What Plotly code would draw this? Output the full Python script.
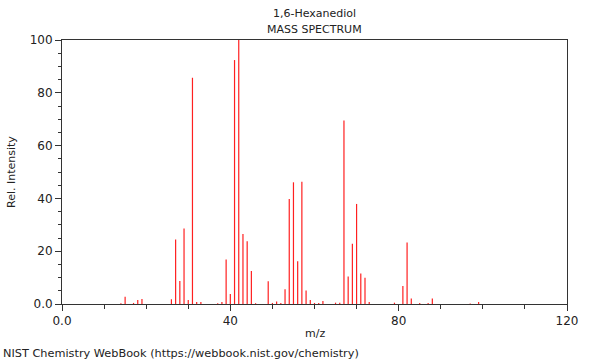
import plotly.graph_objects as go

mz = [14, 15, 17, 18, 19, 26, 27, 28, 29, 30, 31, 32, 33, 37, 38, 39, 40, 41, 42, 43,
      44, 45, 46, 49, 50, 51, 52, 53, 54, 55, 56, 57, 58, 59, 60, 61, 62, 65, 66, 67,
      68, 69, 70, 71, 72, 73, 79, 81, 82, 83, 85, 87, 88, 97, 99]
intensity = [0.3, 2.7, 0.4, 1.5, 1.9, 1.8, 24.4, 8.7, 28.6, 1.5, 85.7, 0.8, 0.8, 0.3, 0.8, 16.9, 3.8, 92.4, 100.0, 26.5,
             23.8, 12.5, 0.3, 8.6, 0.4, 0.9, 0.4, 5.6, 39.8, 46.1, 16.2, 46.3, 5.1, 1.5, 0.4, 0.4, 1.1, 0.5, 0.5, 69.5,
             10.4, 22.8, 37.9, 11.6, 9.9, 0.8, 0.5, 6.8, 23.3, 2.1, 0.4, 0.4, 2.1, 0.2, 0.8]

x_tickvals = [0, 40, 80, 120]
x_ticktext = ["0.0", "40", "80", "120"]
y_tickvals = [0, 20, 40, 60, 80, 100]
y_ticktext = ["0.0", "20", "40", "60", "80", "100"]

title_line1 = "1,6-Hexanediol"
title_line2 = "MASS SPECTRUM"
x_title = "m/z"
y_title = "Rel. Intensity"
footer = "NIST Chemistry WebBook (https://webbook.nist.gov/chemistry)"

font_family = "DejaVu Sans"
axis_color = "#333333"

# stick spectrum: vertical segments from baseline to each intensity
seg_x, seg_y = [], []
for m, v in zip(mz, intensity):
    seg_x += [m, m, None]
    seg_y += [0, v, None]

fig = go.Figure()
fig.add_trace(go.Scatter(x=seg_x, y=seg_y, mode="lines",
                         line=dict(color="#ff2020", width=1.2),
                         hoverinfo="skip"))

fig.update_layout(
    width=600, height=360,
    margin=dict(l=62, r=33, t=40, b=56),
    paper_bgcolor="white", plot_bgcolor="white",
    showlegend=False,
    font=dict(family=font_family, size=11, color="#222222"),
)
fig.update_xaxes(
    range=[0, 120], tickmode="array", tickvals=x_tickvals, ticktext=x_ticktext,
    ticks="outside", ticklen=6, tickcolor=axis_color, showgrid=False, zeroline=False,
    showline=True, linecolor=axis_color, linewidth=1, mirror=True,
    tickfont=dict(size=12),
    minor=dict(ticks="outside", dtick=10, tick0=0, ticklen=4, tickcolor=axis_color, showgrid=False),
)
fig.update_yaxes(
    range=[0, 100], tickmode="array", tickvals=y_tickvals, ticktext=y_ticktext,
    ticks="outside", ticklen=6, tickcolor=axis_color, showgrid=False, zeroline=False,
    showline=True, linecolor=axis_color, linewidth=1, mirror=True,
    tickfont=dict(size=12),
    minor=dict(ticks="outside", dtick=5, tick0=0, ticklen=3, tickcolor=axis_color, showgrid=False),
)

ann = dict(xref="paper", yref="paper", showarrow=False)
f11 = dict(family=font_family, size=11, color="#222222")
fig.add_annotation(text=title_line1, x=0.5, y=1.102, xanchor="center", yanchor="middle", font=f11, **ann)
fig.add_annotation(text=title_line2, x=0.5, y=1.038, xanchor="center", yanchor="middle", font=f11, **ann)
fig.add_annotation(text=x_title, x=0.5, y=-0.11, xanchor="center", yanchor="middle", font=f11, **ann)
fig.add_annotation(text=y_title, x=-0.101, y=0.5, xanchor="center", yanchor="middle", textangle=-90, font=f11, **ann)
fig.add_annotation(text=footer, x=-0.121, y=-0.186, xanchor="left", yanchor="middle",
                   font=dict(family=font_family, size=11.3, color="#222222"), **ann)

fig.write_html("out.html")
